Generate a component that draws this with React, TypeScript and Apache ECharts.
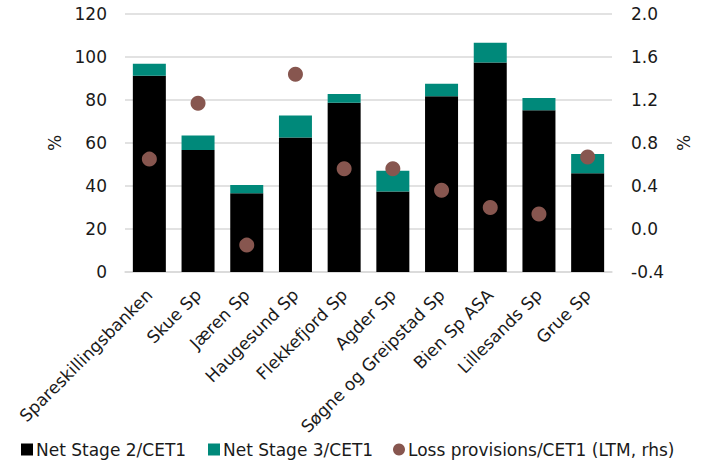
import React, { useEffect, useRef } from "react";
import * as echarts from "echarts";

const categories = [
  "Spareskillingsbanken",
  "Skue Sp",
  "Jæren Sp",
  "Haugesund Sp",
  "Flekkefjord Sp",
  "Agder Sp",
  "Søgne og Greipstad Sp",
  "Bien Sp ASA",
  "Lillesands Sp",
  "Grue Sp",
];

const stage2 = [91.3, 56.7, 36.6, 62.6, 78.7, 37.5, 81.7, 97.5, 75.2, 45.9];
const stage3 = [5.6, 6.8, 3.9, 10.2, 4.1, 9.6, 5.9, 9.1, 5.7, 9.0];
const lossProvisions = [0.65, 1.17, -0.15, 1.44, 0.56, 0.56, 0.36, 0.2, 0.14, 0.67];

const seriesNames = ["Net Stage 2/CET1", "Net Stage 3/CET1", "Loss provisions/CET1 (LTM, rhs)"];

const FONT = "'DejaVu Sans', sans-serif";
const TEXT = "#1a1a1a";
const GRID = "#d9d9d9";
const FS = 17;

const legendAt = (name: string, left: number, icon: string) => ({
  top: 441,
  left,
  padding: 0,
  itemWidth: 12,
  itemHeight: 12,
  itemGap: 0,
  textStyle: { fontFamily: FONT, fontSize: FS, color: TEXT, padding: [0, 0, 0, -2] },
  data: [{ name, icon }],
});

export default function App() {
  const ref = useRef<HTMLDivElement>(null);

  useEffect(() => {
    if (!ref.current) return;
    const chart = echarts.init(ref.current, null, { renderer: "svg" });
    chart.setOption({
      animation: false,
      textStyle: { fontFamily: FONT, color: TEXT },
      grid: { left: 125, right: 89, top: 14, bottom: 194 },
      legend: [
        legendAt(seriesNames[0], 21, "rect"),
        legendAt(seriesNames[1], 208, "rect"),
        legendAt(seriesNames[2], 393, "circle"),
      ],
      xAxis: {
        type: "category",
        data: categories,
        axisLine: { lineStyle: { color: GRID, width: 1.5 } },
        axisTick: { show: false },
        axisLabel: {
          rotate: 45,
          interval: 0,
          fontSize: FS,
          color: TEXT,
          fontFamily: FONT,
          margin: 20,
        },
      },
      yAxis: [
        {
          type: "value",
          min: 0,
          max: 120,
          interval: 20,
          name: "%",
          nameLocation: "middle",
          nameGap: 60,
          nameRotate: 90,
          nameTextStyle: { fontSize: FS, color: TEXT, fontFamily: FONT },
          axisLine: { show: false },
          axisTick: { show: false },
          axisLabel: { fontSize: FS, color: TEXT, fontFamily: FONT, margin: 18 },
          splitLine: { lineStyle: { color: GRID, width: 1.5 } },
        },
        {
          type: "value",
          position: "right",
          min: -0.4,
          max: 2.0,
          interval: 0.4,
          name: "%",
          nameLocation: "middle",
          nameGap: 63,
          nameRotate: 90,
          nameTextStyle: { fontSize: FS, color: TEXT, fontFamily: FONT },
          axisLine: { show: false },
          axisTick: { show: false },
          axisLabel: {
            fontSize: FS,
            color: TEXT,
            fontFamily: FONT,
            margin: 19,
            formatter: (v: number) => v.toFixed(1),
          },
          splitLine: { show: false },
        },
      ],
      series: [
        {
          name: seriesNames[0],
          type: "bar",
          stack: "stage",
          data: stage2,
          barWidth: 33,
          itemStyle: { color: "#000000" },
        },
        {
          name: seriesNames[1],
          type: "bar",
          stack: "stage",
          data: stage3,
          barWidth: 33,
          itemStyle: { color: "#00897a" },
        },
        {
          name: seriesNames[2],
          type: "scatter",
          yAxisIndex: 1,
          data: lossProvisions,
          symbolSize: 15,
          itemStyle: { color: "#87564f", opacity: 1 },
          z: 5,
        },
      ],
    });
    return () => chart.dispose();
  }, []);

  return (
    <div
      ref={ref}
      style={{ position: "absolute", left: 0, top: 0, width: 701, height: 466 }}
    />
  );
}
